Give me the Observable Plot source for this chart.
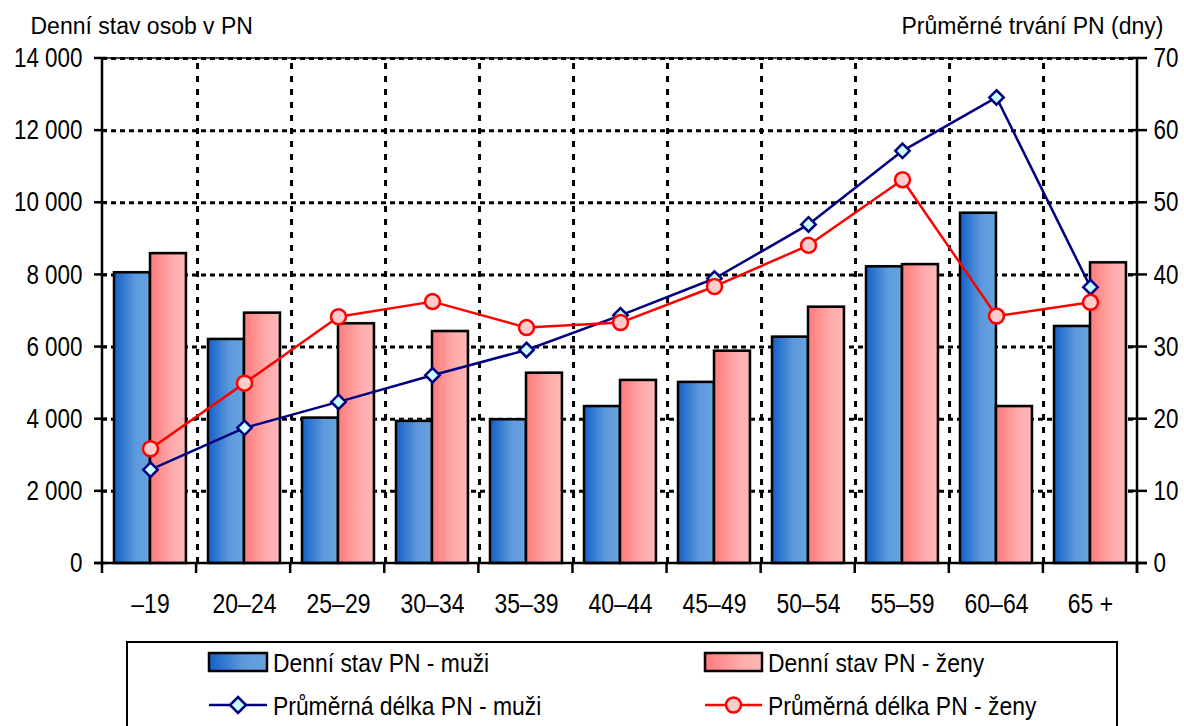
<!DOCTYPE html>
<html>
<head>
<meta charset="utf-8">
<script src="https://cdn.jsdelivr.net/npm/d3@7"></script>
<script src="https://cdn.jsdelivr.net/npm/@observablehq/plot@0.6"></script>
<style>
  html, body { margin: 0; padding: 0; background: #fff; }
  #wrap { position: relative; width: 1184px; height: 726px; overflow: hidden; background: #fff; }
  #chart { position: absolute; left: 0; top: 0; }
  #legend { position: absolute; left: 0; top: 641px; }
</style>
</head>
<body>
<div id="wrap"><div id="chart"></div><svg id="legend" width="1184" height="85"></svg></div>
<script>
// ---- data ----
const categories = ["–19", "20–24", "25–29", "30–34", "35–39", "40–44", "45–49", "50–54", "55–59", "60–64", "65 +"];
const stavMuzi  = [8060, 6210, 4030, 3940, 3985, 4350, 5020, 6275, 8225, 9710, 6570];
const stavZeny  = [8590, 6940, 6645, 6430, 5275, 5075, 5885, 7105, 8285, 4350, 8335];
const delkaMuzi = [13.0, 18.8, 22.4, 26.1, 29.6, 34.4, 39.5, 47.0, 57.2, 64.6, 38.3];
const delkaZeny = [15.9, 25.0, 34.2, 36.3, 32.7, 33.4, 38.4, 44.1, 53.2, 34.3, 36.2];
const leftTicks  = [0, 2000, 4000, 6000, 8000, 10000, 12000, 14000];
const rightTicks = [0, 10, 20, 30, 40, 50, 60, 70];
const seriesNames = ["Denní stav PN - muži", "Denní stav PN - ženy", "Průměrná délka PN - muži", "Průměrná délka PN - ženy"];
const titleLeft = "Denní stav osob v PN";
const titleRight = "Průměrné trvání PN (dny)";

const yMax = leftTicks[leftTicks.length - 1];
const y2Max = rightTicks[rightTicks.length - 1];
const k = yMax / y2Max;

const rows = categories.map((c, i) => ({cat: c, sm: stavMuzi[i], sz: stavZeny[i], dm: delkaMuzi[i], dz: delkaZeny[i]}));

const font = "'Liberation Sans', Arial, sans-serif";
const tickSize = 27;

// ---- layout ----
const W = 1184, H = 620, mL = 102, mR = 47, mT = 58, mB = 57;
const bw = (W - mL - mR) / categories.length;
const barW = 36, gapOuter = 11;

const fmt = d => d3.format(",")(d).replace(/,/g, " ");

function gradients(id1, id2) {
  const defs = d3.create("svg:defs");
  const g1 = defs.append("linearGradient").attr("id", id1).attr("x1", 0).attr("x2", 1).attr("y1", 0).attr("y2", 0);
  g1.append("stop").attr("offset", 0).attr("stop-color", "#1560C8");
  g1.append("stop").attr("offset", 0.6).attr("stop-color", "#5D9ADC");
  g1.append("stop").attr("offset", 1).attr("stop-color", "#68A3E0");
  const g2 = defs.append("linearGradient").attr("id", id2).attr("x1", 0).attr("x2", 1).attr("y1", 0).attr("y2", 0);
  g2.append("stop").attr("offset", 0).attr("stop-color", "#FF7A7A");
  g2.append("stop").attr("offset", 0.65).attr("stop-color", "#FFADAD");
  g2.append("stop").attr("offset", 1).attr("stop-color", "#FFB6B6");
  return defs.node();
}

function frameLines(index, scales, values, dims) {
  const y = scales.y;
  const xl = dims.marginLeft, xr = dims.width - dims.marginRight;
  const y0 = y(0), yt = y(yMax);
  const g = d3.create("svg:g").attr("stroke", "#000").attr("stroke-width", 2.5).attr("fill", "none");
  g.append("line").attr("x1", xl).attr("x2", xr).attr("y1", yt).attr("y2", yt).attr("stroke-width", 1.5);
  g.append("line").attr("x1", xl).attr("x2", xl).attr("y1", yt).attr("y2", y0 + 10);
  g.append("line").attr("x1", xr).attr("x2", xr).attr("y1", yt).attr("y2", y0 + 10);
  g.append("line").attr("x1", xl - 8).attr("x2", xr + 10).attr("y1", y0).attr("y2", y0);
  for (const t of leftTicks) {
    g.append("line").attr("x1", xl - 8).attr("x2", xl + 5).attr("y1", y(t)).attr("y2", y(t));
    g.append("line").attr("x1", xr - 9).attr("x2", xr + 10).attr("y1", y(t)).attr("y2", y(t));
  }
  const step = (xr - xl) / categories.length;
  for (let i = 1; i <= categories.length; i++) {
    const xx = xl + i * step;
    g.append("line").attr("x1", xx).attr("x2", xx).attr("y1", y0).attr("y2", y0 + 10);
  }
  return g.node();
}

const plot = Plot.plot({
  width: W, height: H,
  marginLeft: mL, marginRight: mR, marginTop: mT, marginBottom: mB,
  style: {fontFamily: font, fontSize: tickSize + "px", background: "white", overflow: "visible", color: "#000"},
  x: {type: "band", domain: categories, padding: 0, label: null, axis: null},
  y: {domain: [0, yMax], label: null, axis: null},
  marks: [
    () => gradients("gBlue", "gPink"),
    Plot.ruleY(leftTicks.slice(1), {stroke: "#000", strokeWidth: 3, strokeDasharray: "5,4"}),
    Plot.ruleX(categories.slice(0, -1), {x: d => d, dx: bw / 2, y1: 0, y2: yMax, stroke: "#000", strokeWidth: 3, strokeDasharray: "6,7"}),
    Plot.barY(rows, {x: "cat", y: "sm", insetLeft: gapOuter, insetRight: bw - gapOuter - barW, fill: "#999", fillOpacity: 0.55, dx: 1.5, dy: -1.5}),
    Plot.barY(rows, {x: "cat", y: "sz", insetLeft: gapOuter + barW, insetRight: bw - gapOuter - 2 * barW, fill: "#999", fillOpacity: 0.55, dx: 1.5, dy: -1.5}),
    Plot.barY(rows, {x: "cat", y: "sm", insetLeft: gapOuter, insetRight: bw - gapOuter - barW, fill: "url(#gBlue)", stroke: "#000", strokeWidth: 2.5}),
    Plot.barY(rows, {x: "cat", y: "sz", insetLeft: gapOuter + barW, insetRight: bw - gapOuter - 2 * barW, fill: "url(#gPink)", stroke: "#000", strokeWidth: 2.5}),
    Plot.line(rows, {x: "cat", y: d => d.dm * k, stroke: "#000080", strokeWidth: 2.5}),
    Plot.line(rows, {x: "cat", y: d => d.dz * k, stroke: "#FF0000", strokeWidth: 2.5}),
    Plot.dot(rows, {x: "cat", y: d => d.dm * k, symbol: "diamond2", r: 6.5, fill: "#CCFFFF", stroke: "#000080", strokeWidth: 2.5}),
    Plot.dot(rows, {x: "cat", y: d => d.dz * k, r: 7.5, fill: "#FFCCCC", stroke: "#FF0000", strokeWidth: 2.5}),
    frameLines,
    Plot.axisY(leftTicks, {anchor: "left", tickSize: 0, tickPadding: 20, tickFormat: fmt, label: null, fontSize: tickSize}),
    Plot.axisY(leftTicks, {anchor: "right", tickSize: 0, tickPadding: 16, tickFormat: d => String(d / k), label: null, fontSize: tickSize}),
    Plot.axisX({anchor: "bottom", tickSize: 0, tickPadding: 30, label: null, fontSize: tickSize}),
    Plot.text([titleLeft], {frameAnchor: "top-left", dx: -72, dy: -25, text: d => d, textAnchor: "start", lineAnchor: "bottom", fontSize: 23, fontFamily: font}),
    Plot.text([titleRight], {frameAnchor: "top-right", dx: 26, dy: -25, text: d => d, textAnchor: "end", lineAnchor: "bottom", fontSize: 23, fontFamily: font})
  ]
});
document.getElementById("chart").appendChild(plot);

// condense tick labels (narrow face look)
function condense(nodes, f) {
  nodes.forEach(t => {
    const w = t.getComputedTextLength();
    if (w > 0) { t.setAttribute("textLength", (w * f).toFixed(2)); t.setAttribute("lengthAdjust", "spacingAndGlyphs"); }
  });
}
condense(plot.querySelectorAll('g[aria-label="y-axis tick label"] text'), 0.83);
condense(plot.querySelectorAll('g[aria-label="x-axis tick label"] text'), 0.85);

// ---- legend ----
const lg = d3.select("#legend");
lg.node().appendChild(gradients("lgBlue", "lgPink"));
lg.append("rect").attr("x", 127).attr("y", 1).attr("width", 990).attr("height", 200).attr("fill", "white").attr("stroke", "#000").attr("stroke-width", 2);
const items = [
  {x: 209, w: 58, row: 0, kind: "bar", fill: "url(#lgBlue)", name: seriesNames[0]},
  {x: 705, w: 57, row: 0, kind: "bar", fill: "url(#lgPink)", name: seriesNames[1]},
  {x: 209, w: 58, row: 1, kind: "diamond", name: seriesNames[2]},
  {x: 705, w: 57, row: 1, kind: "circle", name: seriesNames[3]}
];
const legendTexts = [];
for (const it of items) {
  const cy = it.row === 0 ? 21 : 64;
  if (it.kind === "bar") {
    lg.append("rect").attr("x", it.x).attr("y", cy - 9).attr("width", it.w).attr("height", 18).attr("fill", it.fill).attr("stroke", "#000").attr("stroke-width", 2.5);
  } else if (it.kind === "diamond") {
    lg.append("line").attr("x1", it.x).attr("x2", it.x + it.w).attr("y1", cy).attr("y2", cy).attr("stroke", "#000080").attr("stroke-width", 2.5);
    const cx = it.x + it.w / 2, s = 8;
    lg.append("path").attr("d", `M${cx},${cy - s}L${cx + s},${cy}L${cx},${cy + s}L${cx - s},${cy}Z`).attr("fill", "#CCFFFF").attr("stroke", "#000080").attr("stroke-width", 2.5);
  } else {
    lg.append("line").attr("x1", it.x).attr("x2", it.x + it.w).attr("y1", cy).attr("y2", cy).attr("stroke", "#FF0000").attr("stroke-width", 2.5);
    lg.append("circle").attr("cx", it.x + it.w / 2).attr("cy", cy).attr("r", 7.5).attr("fill", "#FFCCCC").attr("stroke", "#FF0000").attr("stroke-width", 2.5);
  }
  const t = lg.append("text").attr("x", it.x + it.w + 6).attr("y", cy + 9.5).attr("font-family", font).attr("font-size", 26).attr("fill", "#000").text(it.name);
  legendTexts.push(t.node());
}
condense(legendTexts, 0.88);
</script>
</body>
</html>
